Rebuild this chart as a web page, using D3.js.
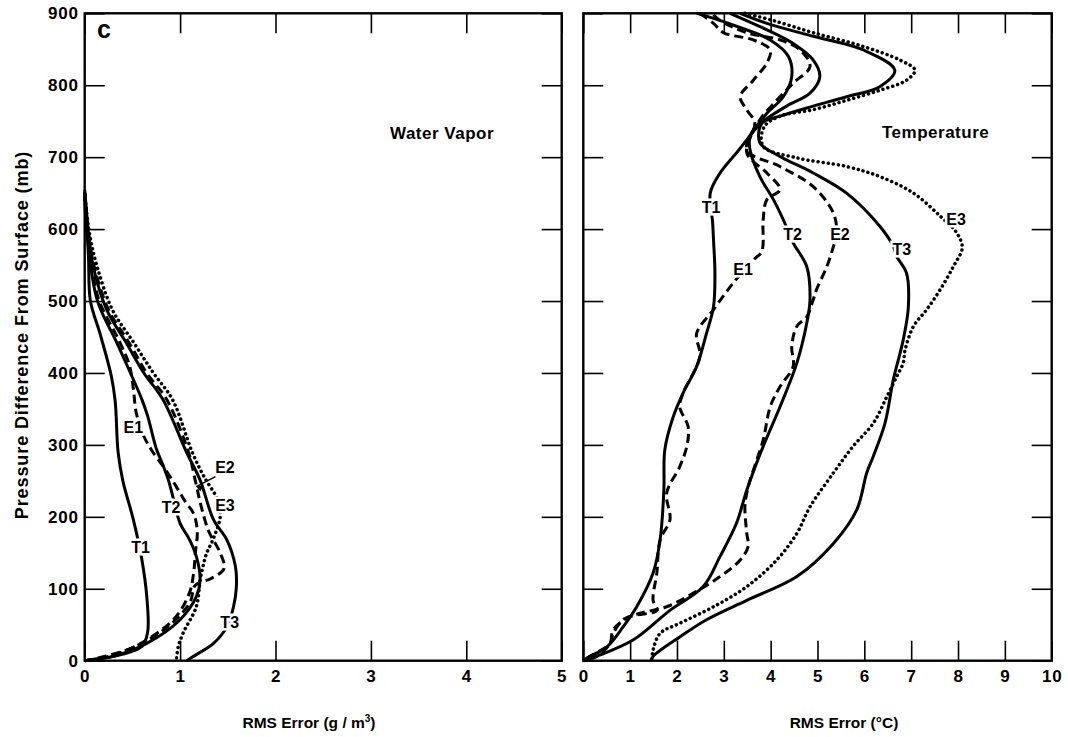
<!DOCTYPE html>
<html>
<head>
<meta charset="utf-8">
<script src="https://cdn.jsdelivr.net/npm/d3@7"></script>
<style>
body { margin: 0; background: #fff; }
svg text { font-family: "Liberation Sans", Arial, Helvetica, sans-serif; font-weight: bold; fill: #000; }
</style>
</head>
<body>
<svg id="chart" width="1068" height="737"></svg>
<script>
"use strict";

// tick values
var yTicks = [0, 100, 200, 300, 400, 500, 600, 700, 800, 900];
var vaporTicks = [0, 1, 2, 3, 4, 5];
var tempTicks = [0, 1, 2, 3, 4, 5, 6, 7, 8, 9, 10];

// water vapor panel: [rms error g/m3, pressure difference mb]
var vaporT1 = [[0.00,655],[0.02,620],[0.04,560],[0.06,500],[0.16,455],[0.28,395],[0.32,360],[0.35,290],[0.40,250],[0.51,196],[0.60,140],[0.65,90],[0.66,40],[0.60,20],[0.30,6],[0.05,1],[0,0]];
var vaporT2 = [[0.00,650],[0.02,600],[0.13,502],[0.34,441],[0.60,363],[0.66,340],[0.75,295],[0.82,272],[0.88,250],[0.93,225],[1.00,191],[1.10,168],[1.17,145],[1.21,112],[1.17,89],[1.00,57],[0.65,24],[0.30,6],[0.05,1],[0,0]];
var vaporT3 = [[0.00,650],[0.04,594],[0.09,548],[0.23,488],[0.44,441],[0.62,400],[0.82,363],[1.07,289],[1.21,251],[1.35,196],[1.49,168],[1.58,131],[1.59,103],[1.56,75],[1.49,47],[1.35,24],[1.14,6],[1.07,0]];
var vaporE1 = [[0.00,650],[0.03,600],[0.14,505],[0.36,445],[0.47,410],[0.51,378],[0.54,345],[0.62,312],[0.70,293],[0.85,265],[0.96,242],[1.06,220],[1.14,205],[1.18,180],[1.16,150],[1.14,120],[1.10,95],[0.95,60],[0.60,25],[0.25,6],[0,0]];
var vaporE2 = [[0.00,650],[0.04,594],[0.10,548],[0.25,488],[0.47,441],[0.65,400],[0.86,363],[1.09,289],[1.16,250],[1.22,215],[1.30,180],[1.42,150],[1.46,128],[1.32,114],[1.16,105],[1.10,80],[0.85,45],[0.50,18],[0.15,4],[0,0]];
var vaporE3 = [[0.00,650],[0.05,594],[0.13,548],[0.29,488],[0.52,441],[0.72,400],[0.92,363],[1.13,289],[1.25,256],[1.40,222],[1.42,200],[1.35,170],[1.28,150],[1.24,131],[1.21,112],[1.17,75],[1.03,38],[0.98,19],[0.96,0]];

// temperature panel: [rms error degC, pressure difference mb]
var tempT1 = [[2.42,900],[2.63,896],[3.27,882],[3.99,863],[4.38,840],[4.45,812],[4.27,784],[3.92,761],[3.70,743],[3.49,724],[3.27,706],[2.92,678],[2.71,650],[2.76,610],[2.78,585],[2.81,539],[2.78,492],[2.63,455],[2.42,409],[2.13,372],[1.92,339],[1.74,293],[1.72,237],[1.64,168],[1.49,122],[1.14,75],[0.85,47],[0.50,19],[0.14,6],[0,0]];
var tempT2 = [[3.13,900],[3.92,877],[4.48,858],[4.91,835],[5.05,812],[4.84,789],[4.34,771],[3.81,748],[3.56,728],[3.56,710],[3.77,673],[4.06,641],[4.27,613],[4.48,581],[4.77,548],[4.84,502],[4.77,469],[4.56,414],[4.20,353],[3.84,298],[3.49,237],[3.27,191],[2.92,145],[2.56,103],[1.85,70],[1.07,29],[0.36,8],[0,0]];
var tempT3 = [[3.35,900],[3.92,886],[4.91,868],[5.98,849],[6.65,821],[6.33,798],[5.62,784],[4.91,771],[4.20,757],[3.81,747],[3.77,720],[4.20,701],[4.91,678],[5.62,650],[6.33,604],[6.62,576],[6.69,562],[6.90,539],[6.94,492],[6.83,446],[6.62,391],[6.44,330],[6.19,284],[6.05,261],[5.84,210],[5.34,163],[4.56,117],[3.49,84],[2.63,57],[2.06,33],[1.49,6],[1.45,0]];
var tempE1 = [[2.49,900],[2.78,886],[2.99,873],[3.63,863],[3.99,849],[3.92,831],[3.63,807],[3.35,784],[3.50,765],[3.66,748],[3.49,706],[3.92,678],[4.20,655],[3.92,641],[3.84,613],[3.81,569],[3.63,557],[3.20,525],[2.78,488],[2.42,455],[2.49,423],[2.13,372],[2.06,353],[2.24,325],[2.21,298],[2.06,270],[1.78,233],[1.85,196],[1.64,168],[1.57,122],[1.49,84],[1.57,70],[1.00,61],[0.64,43],[0.57,24],[0.29,6],[0,0]];
var tempE2 = [[2.78,898],[2.92,890],[3.49,873],[4.20,863],[4.63,849],[4.84,826],[4.48,803],[4.13,779],[3.75,750],[3.49,710],[4.20,687],[4.91,659],[5.34,622],[5.41,594],[5.34,576],[5.20,548],[4.98,516],[4.91,502],[4.77,478],[4.56,465],[4.45,437],[4.48,409],[4.20,381],[3.99,353],[3.84,307],[3.56,251],[3.49,233],[3.45,214],[3.49,177],[3.52,159],[3.35,140],[2.92,117],[2.35,94],[1.78,75],[1.21,66],[0.85,57],[0.64,38],[0.57,24],[0.14,6],[0,0]];
var tempE3 = [[3.45,900],[4.05,890],[4.91,873],[5.97,854],[6.76,835],[7.08,821],[6.90,807],[6.33,793],[5.62,779],[4.91,766],[4.20,757],[3.86,742],[3.84,715],[4.56,699],[5.62,687],[6.33,673],[7.05,650],[7.62,618],[7.97,595],[8.09,574],[7.90,548],[7.62,516],[7.33,488],[7.05,465],[6.87,432],[6.83,414],[6.69,395],[6.48,367],[6.19,330],[5.76,298],[5.34,261],[4.84,214],[4.56,177],[4.13,140],[3.49,103],[2.78,75],[2.06,52],[1.64,38],[1.49,15],[1.46,0]];

var seriesNames = ["T1", "T2", "T3", "E1", "E2", "E3"];
var vaporSeries = [vaporT1, vaporT2, vaporT3, vaporE1, vaporE2, vaporE3];
var tempSeries = [tempT1, tempT2, tempT3, tempE1, tempE2, tempE3];

// curve labels: [name, x, pressure] at label centre / baseline
var vaporLabels = [["E1",0.51,317],["E2",1.47,261],["T2",0.905,205],["E3",1.47,208],["T1",0.585,150],["T3",1.52,45]];
var tempLabels = [["T1",2.73,623],["T2",4.47,585],["E2",5.48,585],["T3",6.80,564],["E3",7.96,606],["E1",3.41,536]];

var svg = d3.select("#chart");

var y = d3.scaleLinear().domain([0, 900]).range([660.7, 13.3]);
var xVapor = d3.scaleLinear().domain([0, 5]).range([84.7, 561.7]);
var xTemp = d3.scaleLinear().domain([0, 10]).range([583.3, 1051.7]);

function styleLine(path, name) {
    path.attr("fill", "none")
        .attr("stroke", "#000")
        .attr("stroke-width", 3)
        .attr("stroke-linejoin", "round");
    if (name == "E3") {
        path.attr("stroke-dasharray", "0.1,5")
            .attr("stroke-linecap", "round")
            .attr("stroke-width", 3.5);
    } else if (name == "E1" || name == "E2") {
        path.attr("stroke-dasharray", "9,5");
    }
}

function drawPanel(x, ticks, series, labels, showYLabels) {
    var g = svg.append("g");
    var x0 = x.range()[0], x1 = x.range()[1];
    var yb = y.range()[0], yt = y.range()[1];

    function clean(a) {
        a.select(".domain").remove();
        a.selectAll(".tick line").attr("stroke-width", 1.6);
        a.selectAll("text")
            .style("font-size", "17px")
            .style("letter-spacing", "0.8px")
            .style("font-family", "'Liberation Sans', Arial, sans-serif")
            .style("font-weight", "bold")
            .attr("fill", "#000");
        a.attr("font-family", null).attr("font-size", null);
    }

    g.append("g")
        .attr("transform", "translate(0," + yb + ")")
        .call(d3.axisBottom(x).tickValues(ticks).tickSize(-20).tickPadding(9).tickFormat(d3.format("d")))
        .call(clean);
    g.append("g")
        .attr("transform", "translate(0," + yt + ")")
        .call(d3.axisTop(x).tickValues(ticks).tickSize(-20).tickFormat(""))
        .call(clean);
    g.append("g")
        .attr("transform", "translate(" + x0 + ",0)")
        .call(d3.axisLeft(y).tickValues(yTicks).tickSize(-20).tickPadding(6)
            .tickFormat(showYLabels ? d3.format("d") : ""))
        .call(clean);
    g.append("g")
        .attr("transform", "translate(" + x1 + ",0)")
        .call(d3.axisRight(y).tickValues(yTicks).tickSize(-20).tickFormat(""))
        .call(clean);

    g.append("rect")
        .attr("x", x0).attr("y", yt)
        .attr("width", x1 - x0).attr("height", yb - yt)
        .attr("fill", "none")
        .attr("stroke", "#000")
        .attr("stroke-width", 2.4);

    var line = d3.line()
        .x(function(d) { return x(d[0]); })
        .y(function(d) { return y(d[1]); })
        .curve(d3.curveCatmullRom.alpha(0.5));

    series.forEach(function(s, i) {
        g.append("path")
            .datum(s)
            .attr("d", line)
            .call(styleLine, seriesNames[i]);
    });

    g.selectAll("text.curve-label")
        .data(labels)
        .enter().append("text")
        .attr("class", "curve-label")
        .attr("x", function(d) { return x(d[1]); })
        .attr("y", function(d) { return y(d[2]); })
        .attr("text-anchor", "middle")
        .style("font-size", "16px")
        .attr("stroke", "#fff")
        .attr("stroke-width", 5)
        .attr("paint-order", "stroke")
        .text(function(d) { return d[0]; });

    return g;
}

var gv = drawPanel(xVapor, vaporTicks, vaporSeries, vaporLabels, true);
drawPanel(xTemp, tempTicks, tempSeries, tempLabels, false);

// arrow from the E2 label to its curve
gv.append("line")
    .attr("x1", xVapor(1.37)).attr("y1", y(256))
    .attr("x2", xVapor(1.17)).attr("y2", y(242))
    .attr("stroke", "#000").attr("stroke-width", 1.5);
var ax = xVapor(1.17), ay = y(242);
gv.append("path")
    .attr("d", "M" + ax + "," + ay + "l7,-1l-3,6z")
    .attr("fill", "#000");

// panel texts
svg.append("text").attr("x", 97).attr("y", 38).style("font-size", "25px").text("c");
svg.append("text").attr("x", 390).attr("y", 139).style("font-size", "17px")
    .style("letter-spacing", "0.5px").text("Water Vapor");
svg.append("text").attr("x", 882).attr("y", 138).style("font-size", "17px")
    .style("letter-spacing", "0.5px").text("Temperature");

// axis titles
svg.append("text").attr("x", 309).attr("y", 728).attr("text-anchor", "middle")
    .style("font-size", "15.5px")
    .html("RMS Error (g / m<tspan dy='-6' font-size='10px'>3</tspan><tspan dy='6'>)</tspan>");
svg.append("text").attr("x", 844).attr("y", 728).attr("text-anchor", "middle")
    .style("font-size", "15.5px").text("RMS Error (°C)");
svg.append("text")
    .attr("transform", "translate(28,335) rotate(-90)")
    .attr("text-anchor", "middle")
    .style("font-size", "18px")
    .style("letter-spacing", "0.9px")
    .text("Pressure Difference From Surface (mb)");
</script>
</body>
</html>
